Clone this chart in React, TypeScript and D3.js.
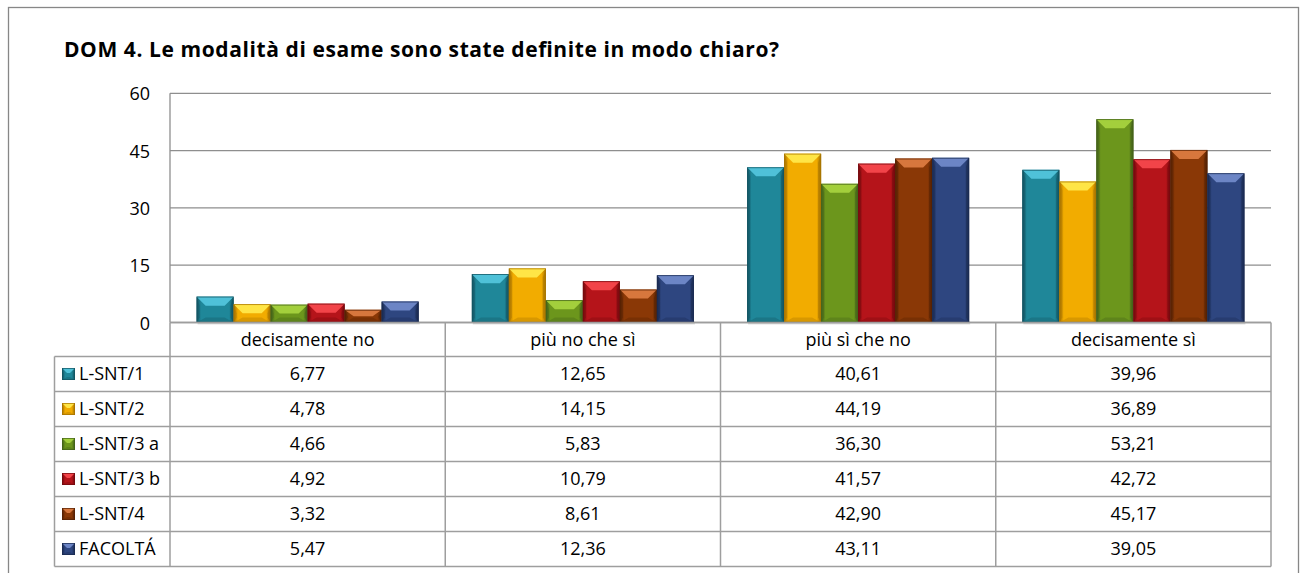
import React from "react";
import * as d3 from "d3";

const title = "DOM 4. Le modalità di esame sono state definite in modo chiaro?";
const categories = ["decisamente no", "più no che sì", "più sì che no", "decisamente sì"];
const seriesNames = ["L-SNT/1", "L-SNT/2", "L-SNT/3 a", "L-SNT/3 b", "L-SNT/4", "FACOLTÁ"];
const sLSNT1 = [6.77, 12.65, 40.61, 39.96];
const sLSNT2 = [4.78, 14.15, 44.19, 36.89];
const sLSNT3a = [4.66, 5.83, 36.3, 53.21];
const sLSNT3b = [4.92, 10.79, 41.57, 42.72];
const sLSNT4 = [3.32, 8.61, 42.9, 45.17];
const sFacolta = [5.47, 12.36, 43.11, 39.05];
const seriesValues = [sLSNT1, sLSNT2, sLSNT3a, sLSNT3b, sLSNT4, sFacolta];
const yTicks = [0, 15, 30, 45, 60];

const palette = [
  { body: "#1F8799", light: "#52C4DB", dark: "#135563" },
  { body: "#F2AC00", light: "#FFE84A", dark: "#A87400" },
  { body: "#6C961C", light: "#A6D23E", dark: "#44631A" },
  { body: "#B5141A", light: "#F5474C", dark: "#760A0E" },
  { body: "#8A3806", light: "#DB7A40", dark: "#562204" },
  { body: "#2E4680", light: "#7089C8", dark: "#1B2B52" },
];

const W = 1302;
const H = 573;
const plotL = 170;
const plotR = 1271;
const plotT = 93.3;
const plotB = 322.5;
const legendL = 54.5;
const headerBottom = 356.5;
const rowH = 35;
const font = "'Open Sans', 'DejaVu Sans', sans-serif";
const gridColor = "#8E8E8E";
const tableColor = "#9E9E9E";
const textSize = 18;

const fmt = (v: number) => d3.format(".2f")(v).replace(".", ",");

function BevelBar({ x, y, w, h, c, id, big = true }: { x: number; y: number; w: number; h: number; c: typeof palette[0]; id: string; big?: boolean }) {
  if (h <= 0) return null;
  const bt = Math.min(big ? 9 : 5, h / 2);
  const bs = Math.min(big ? 9 : 5, w / 2);
  const bb = Math.min(big ? 5 : 3, h / 2);
  const sw = big ? 3 : 1.5;
  return (
    <g>
      <rect x={x} y={y} width={w} height={h} fill={`url(#${id})`} />
      <polygon
        points={`${x},${y} ${x + sw},${y + bt} ${x + sw},${y + h - bb} ${x},${y + h}`}
        fill={c.dark}
        opacity={0.45}
      />
      <polygon
        points={`${x + w},${y} ${x + w - sw},${y + bt} ${x + w - sw},${y + h - bb} ${x + w},${y + h}`}
        fill={c.dark}
        opacity={0.55}
      />
      <polygon
        points={`${x},${y + h} ${x + bs},${y + h - bb} ${x + w - bs},${y + h - bb} ${x + w},${y + h}`}
        fill={c.dark}
        opacity={0.35}
      />
      <polygon
        points={`${x},${y} ${x + w},${y} ${x + w - bs},${y + bt} ${x + bs},${y + bt}`}
        fill={c.light}
        opacity={0.95}
      />
      <rect x={x + 0.4} y={y + 0.4} width={w - 0.8} height={h - 0.8} fill="none" stroke={c.dark} strokeWidth={0.8} opacity={0.9} />
    </g>
  );
}

export default function App() {
  const x0 = d3.scaleBand<string>().domain(categories).range([plotL, plotR]).padding(0);
  const pad = 26.6;
  const x1 = d3
    .scaleBand<string>()
    .domain(seriesNames)
    .range([pad, x0.bandwidth() - pad])
    .padding(0);
  const y = d3.scaleLinear().domain([0, 60]).range([plotB, plotT]);

  const tableBottom = headerBottom + rowH * seriesNames.length;

  return (
    <svg
      width={W}
      height={H}
      style={{ position: "absolute", left: 0, top: 0, background: "#fff" }}
      fontFamily={font}
    >
      <defs>
        {palette.map((c, i) => (
          <linearGradient key={i} id={`g${i}`} x1="0" x2="1" y1="0" y2="0">
            <stop offset="0" stopColor={c.dark} stopOpacity={1} />
            <stop offset="0.12" stopColor={c.body} />
            <stop offset="0.5" stopColor={c.body} />
            <stop offset="0.88" stopColor={c.body} />
            <stop offset="1" stopColor={c.dark} />
          </linearGradient>
        ))}
        {palette.map((c, i) => (
          <linearGradient key={"k" + i} id={`k${i}`} x1="0" x2="1" y1="0" y2="0">
            <stop offset="0" stopColor={c.dark} />
            <stop offset="0.25" stopColor={c.body} />
            <stop offset="0.75" stopColor={c.body} />
            <stop offset="1" stopColor={c.dark} />
          </linearGradient>
        ))}
      </defs>
      <rect x={0} y={0} width={W} height={H} fill="#fff" />
      <rect x={8.5} y={7.5} width={1290} height={600} fill="none" stroke="#878787" strokeWidth={1.3} />

      <text x={64} y={57} fontSize={21} fontWeight="bold" fill="#000" textLength={715} lengthAdjust="spacing">
        {title}
      </text>

      {yTicks.map((t) => (
        <line key={t} x1={plotL} x2={plotR} y1={y(t)} y2={y(t)} stroke={gridColor} strokeWidth={1.3} />
      ))}
      <line x1={plotL} x2={plotL} y1={plotT} y2={plotB} stroke={gridColor} strokeWidth={1.3} />
      {yTicks.map((t) => (
        <text key={"t" + t} x={150} y={y(t) + 7} fontSize={textSize} textAnchor="end" fill="#000">
          {t}
        </text>
      ))}

      {categories.map((cat, ci) => (
        <g key={cat} transform={`translate(${x0(cat)},0)`}>
          <rect
            x={x1(seriesNames[0])! + 1}
            y={plotB - 1}
            width={x1.bandwidth() * seriesNames.length}
            height={3}
            fill="#000"
            opacity={0.12}
          />
          {seriesNames.map((s, si) => {
            const v = seriesValues[si][ci];
            return (
              <BevelBar
                key={s}
                x={x1(s)!}
                y={y(v)}
                w={x1.bandwidth()}
                h={plotB - y(v)}
                c={palette[si]}
                id={`g${si}`}
              />
            );
          })}
        </g>
      ))}

      <g stroke={tableColor} strokeWidth={1.5} fill="none">
        <line x1={plotL} x2={plotR} y1={plotB} y2={plotB} />
        <line x1={legendL} x2={plotR} y1={headerBottom} y2={headerBottom} />
        {seriesNames.map((s, i) => (
          <line
            key={s}
            x1={legendL}
            x2={plotR}
            y1={headerBottom + rowH * (i + 1)}
            y2={headerBottom + rowH * (i + 1)}
          />
        ))}
        <line x1={legendL} x2={legendL} y1={headerBottom} y2={tableBottom} />
        {categories.map((cat) => (
          <line key={cat} x1={x0(cat)!} x2={x0(cat)!} y1={plotB} y2={tableBottom} />
        ))}
        <line x1={plotR} x2={plotR} y1={plotB} y2={tableBottom} />
      </g>

      {categories.map((cat) => (
        <text
          key={"h" + cat}
          x={x0(cat)! + x0.bandwidth() / 2}
          y={(plotB + headerBottom) / 2 + 6}
          fontSize={textSize}
          textAnchor="middle"
          fill="#000"
        >
          {cat}
        </text>
      ))}

      {seriesNames.map((s, si) => {
        const rowTop = headerBottom + rowH * si;
        const cy = rowTop + rowH / 2;
        return (
          <g key={"r" + s}>
            <BevelBar x={62} y={cy - 6} w={13} h={12} c={palette[si]} id={`k${si}`} big={false} />
            <text x={79} y={cy + 6} fontSize={textSize} fill="#000">
              {s}
            </text>
            {categories.map((cat, ci) => (
              <text
                key={cat}
                x={x0(cat)! + x0.bandwidth() / 2}
                y={cy + 6}
                fontSize={textSize}
                textAnchor="middle"
                fill="#000"
              >
                {fmt(seriesValues[si][ci])}
              </text>
            ))}
          </g>
        );
      })}
    </svg>
  );
}
